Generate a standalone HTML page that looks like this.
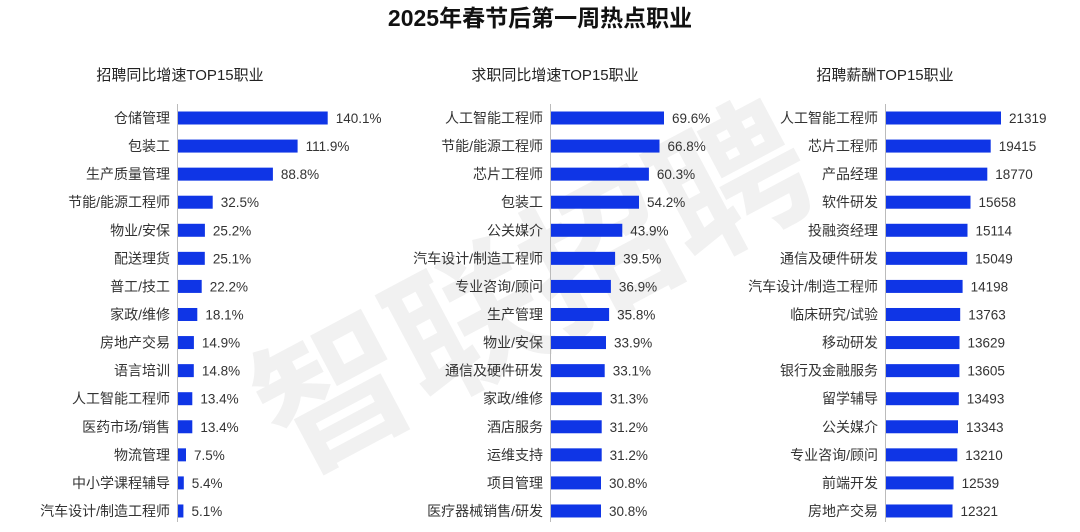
<!DOCTYPE html>
<html><head><meta charset="utf-8"><style>
body{margin:0;background:#fff;}
svg{display:block;font-family:"Liberation Sans","Noto Sans CJK SC",sans-serif;}
</style></head><body>
<svg id="s" width="1080" height="532" xmlns="http://www.w3.org/2000/svg">
<text x="540" y="26" text-anchor="middle" font-size="23" font-weight="bold" fill="#111">2025年春节后第一周热点职业</text>
<text x="540" y="340" text-anchor="middle" font-size="150" font-weight="bold" fill="#f1f1f1" transform="rotate(-28 540 300)">智联招聘</text>
<g id="g"></g>
</svg>
<script>
var P=[
{t:"招聘同比增速TOP15职业",tx:180,ax:178,sc:149.7/140.1,pct:true,
d:[["仓储管理",140.1],["包装工",111.9],["生产质量管理",88.8],["节能/能源工程师",32.5],["物业/安保",25.2],["配送理货",25.1],["普工/技工",22.2],["家政/维修",18.1],["房地产交易",14.9],["语言培训",14.8],["人工智能工程师",13.4],["医药市场/销售",13.4],["物流管理",7.5],["中小学课程辅导",5.4],["汽车设计/制造工程师",5.1]]},
{t:"求职同比增速TOP15职业",tx:555,ax:551,sc:113/69.6,pct:true,
d:[["人工智能工程师",69.6],["节能/能源工程师",66.8],["芯片工程师",60.3],["包装工",54.2],["公关媒介",43.9],["汽车设计/制造工程师",39.5],["专业咨询/顾问",36.9],["生产管理",35.8],["物业/安保",33.9],["通信及硬件研发",33.1],["家政/维修",31.3],["酒店服务",31.2],["运维支持",31.2],["项目管理",30.8],["医疗器械销售/研发",30.8]]},
{t:"招聘薪酬TOP15职业",tx:885,ax:886,sc:115/21319,pct:false,
d:[["人工智能工程师",21319],["芯片工程师",19415],["产品经理",18770],["软件研发",15658],["投融资经理",15114],["通信及硬件研发",15049],["汽车设计/制造工程师",14198],["临床研究/试验",13763],["移动研发",13629],["银行及金融服务",13605],["留学辅导",13493],["公关媒介",13343],["专业咨询/顾问",13210],["前端开发",12539],["房地产交易",12321]]}
];
var h='';
P.forEach(function(p){
h+='<text x="'+p.tx+'" y="80" text-anchor="middle" font-size="15" fill="#222">'+p.t+'</text>';
h+='<line x1="'+(p.ax-0.5)+'" y1="104" x2="'+(p.ax-0.5)+'" y2="522" stroke="#bbb" stroke-width="1"/>';
p.d.forEach(function(r,i){
var cy=118+i*28.07,w=r[1]*p.sc;
h+='<text x="'+(p.ax-8)+'" y="'+(cy+5)+'" text-anchor="end" font-size="14" fill="#333">'+r[0]+'</text>';
h+='<rect x="'+p.ax+'" y="'+(cy-6.5)+'" width="'+w.toFixed(1)+'" height="13" fill="#0f35e6"/>';
h+='<text x="'+(p.ax+w+8)+'" y="'+(cy+5)+'" font-size="13.5" fill="#333">'+(p.pct?r[1].toFixed(1)+'%':r[1])+'</text>';
});
});
document.getElementById('g').innerHTML=h;
</script>
</body></html>
